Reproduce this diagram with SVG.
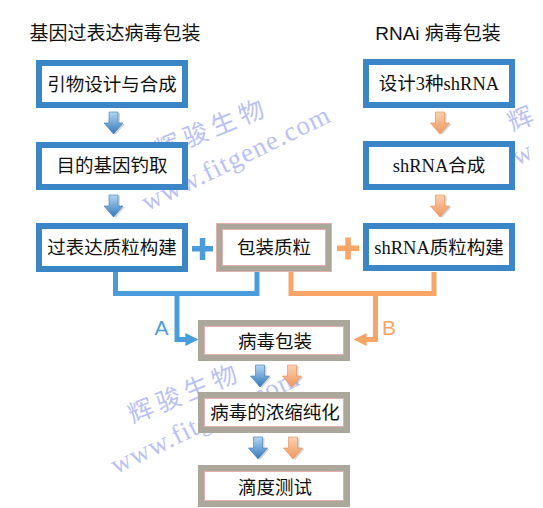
<svg xmlns="http://www.w3.org/2000/svg" width="543" height="508" viewBox="0 0 543 508">
<defs>
<style>
.bg{fill:#ffffff}
.title{font-family:"Liberation Sans","Noto Sans CJK SC",sans-serif;font-size:19px;fill:#111;text-anchor:middle;dominant-baseline:central}
.lbl{font-family:"Liberation Serif","Noto Sans CJK SC",serif;font-size:18.5px;fill:#111;text-anchor:middle;dominant-baseline:central}
.bbox{fill:#fff;stroke:#3A86C6;stroke-width:6}
.gbox{fill:#fff;stroke:#ABA79B;stroke-width:6}
.pink{fill:none;stroke:#E3AEAE;stroke-width:1}
.cb{fill:none;stroke:#4A9CDA;stroke-width:5;stroke-linejoin:miter}
.co{fill:none;stroke:#F9A567;stroke-width:5;stroke-linejoin:miter}
.ab{font-family:"Liberation Sans",sans-serif;font-size:21px;text-anchor:middle;dominant-baseline:central}
.wm{font-family:"Noto Sans CJK SC",sans-serif;font-size:25px;fill:#8E98F0;opacity:0.6;text-anchor:middle;dominant-baseline:central;letter-spacing:5px}
.wmu{font-family:"Liberation Serif",serif;font-size:27px;fill:#8E98F0;opacity:0.6;text-anchor:middle;dominant-baseline:central;letter-spacing:1px}
</style>
<linearGradient id="gb" x1="0" y1="0" x2="0" y2="1">
<stop offset="0" stop-color="#B4D6F2"/><stop offset="1" stop-color="#3478BA"/>
</linearGradient>
<linearGradient id="go" x1="0" y1="0" x2="0" y2="1">
<stop offset="0" stop-color="#FDD2B2"/><stop offset="1" stop-color="#F0955A"/>
</linearGradient>
<path id="da" d="M-4.5,0 H4.5 V11 H9.5 L0,22 L-9.5,11 H-4.5 Z"/>
<marker id="mb" viewBox="0 0 10 10" refX="2" refY="5" markerWidth="2.6" markerHeight="2.6" orient="auto" markerUnits="strokeWidth"><path d="M0,0 L10,5 L0,10 Z" fill="#4A9CDA"/></marker>
<marker id="mo" viewBox="0 0 10 10" refX="2" refY="5" markerWidth="2.6" markerHeight="2.6" orient="auto" markerUnits="strokeWidth"><path d="M0,0 L10,5 L0,10 Z" fill="#F9A567"/></marker>
</defs>
<rect class="bg" x="0" y="0" width="543" height="508"/>

<g id="watermarks">
<text class="wm" transform="translate(211,126) rotate(-22)">辉骏生物</text>
<text class="wmu" transform="translate(236,158) rotate(-26)">www.fitgene.com</text>
<text class="wm" transform="translate(184,391) rotate(-22)">辉骏生物</text>
<text class="wmu" transform="translate(205,421) rotate(-26)">www.fitgene.com</text>
<text class="wm" transform="translate(522,116) rotate(-22)">辉</text>
<text class="wmu" transform="translate(513,158) rotate(-26)">ww</text>
</g>

<g id="titles">
<text class="title" x="115" y="33">基因过表达病毒包装</text>
<text class="title" x="438" y="33">RNAi 病毒包装</text>
</g>

<g id="connectors">
<path class="cb" d="M115.5,272 V293.5 H257 V272"/>
<path class="cb" d="M177,293.5 V339.5 H188" marker-end="url(#mb)"/>
<path class="co" d="M291,272 V293.5 H434 V272"/>
<path class="co" d="M375.5,293.5 V339.5 H364" marker-end="url(#mo)"/>
<text class="ab" x="161.5" y="327" fill="#4A9CDA">A</text>
<text class="ab" x="389" y="327" fill="#F9A567">B</text>
<g id="plus-blue" fill="#4A9CDA"><rect x="192" y="246" width="21" height="5.5"/><rect x="199.8" y="238" width="5.5" height="22"/></g>
<g id="plus-orange" fill="#F9A567"><rect x="337" y="245.5" width="22" height="5.5"/><rect x="345.3" y="237.5" width="5.5" height="22"/></g>
<g id="block-arrows">
<use href="#da" transform="translate(115.5,113)" fill="#888" opacity="0.35"/>
<use href="#da" transform="translate(113.5,112)" fill="url(#gb)" stroke="#3A78B4" stroke-width="0.6"/>
<use href="#da" transform="translate(115.5,196)" fill="#888" opacity="0.35"/>
<use href="#da" transform="translate(113.5,195)" fill="url(#gb)" stroke="#3A78B4" stroke-width="0.6"/>
<use href="#da" transform="translate(442,113)" fill="#888" opacity="0.35"/>
<use href="#da" transform="translate(440,112)" fill="url(#go)" stroke="#E38A50" stroke-width="0.6"/>
<use href="#da" transform="translate(442,196)" fill="#888" opacity="0.35"/>
<use href="#da" transform="translate(440,195)" fill="url(#go)" stroke="#E38A50" stroke-width="0.6"/>
<use href="#da" transform="translate(262,366)" fill="#888" opacity="0.35"/>
<use href="#da" transform="translate(260,365)" fill="url(#gb)" stroke="#3A78B4" stroke-width="0.6"/>
<use href="#da" transform="translate(294,366)" fill="#888" opacity="0.35"/>
<use href="#da" transform="translate(292,365)" fill="url(#go)" stroke="#E38A50" stroke-width="0.6"/>
<use href="#da" transform="translate(260,438)" fill="#888" opacity="0.35"/>
<use href="#da" transform="translate(258,437)" fill="url(#gb)" stroke="#3A78B4" stroke-width="0.6"/>
<use href="#da" transform="translate(295,438)" fill="#888" opacity="0.35"/>
<use href="#da" transform="translate(293,437)" fill="url(#go)" stroke="#E38A50" stroke-width="0.6"/>
</g>
</g>

<g id="n-primer"><rect class="bbox" x="39" y="63" width="146" height="42"/><text class="lbl" x="112" y="85">引物设计与合成</text></g>
<g id="n-gene"><rect class="bbox" x="39" y="145" width="146" height="42"/><text class="lbl" x="112" y="166">目的基因钓取</text></g>
<g id="n-overexp"><rect class="bbox" x="39" y="226" width="146" height="43"/><text class="lbl" x="112" y="248">过表达质粒构建</text></g>
<g id="n-design"><rect class="bbox" x="366" y="62" width="146" height="43"/><text class="lbl" x="439" y="84">设计3种shRNA</text></g>
<g id="n-shsynth"><rect class="bbox" x="366" y="144" width="146" height="43"/><text class="lbl" x="439" y="166">shRNA合成</text></g>
<g id="n-shplasmid"><rect class="bbox" x="366" y="226" width="146" height="42"/><text class="lbl" x="439" y="248">shRNA质粒构建</text></g>
<g id="n-pack-plasmid"><rect class="gbox" x="219" y="226" width="110" height="43"/><rect class="pink" x="216.5" y="223.5" width="115" height="48"/><rect class="pink" x="222.5" y="229.5" width="103" height="36"/><text class="lbl" x="274" y="248">包装质粒</text></g>
<g id="n-packaging"><rect class="gbox" x="201" y="323" width="146" height="35"/><rect class="pink" x="204.5" y="326.5" width="139" height="28"/><text class="lbl" x="275" y="341.5">病毒包装</text></g>
<g id="n-purify"><rect class="gbox" x="201" y="395" width="146" height="35"/><rect class="pink" x="204.5" y="398.5" width="139" height="28"/><text class="lbl" x="275" y="413">病毒的浓缩纯化</text></g>
<g id="n-titer"><rect class="gbox" x="201" y="468" width="146" height="36"/><rect class="pink" x="204.5" y="471.5" width="139" height="29"/><text class="lbl" x="275" y="487.5">滴度测试</text></g>
</svg>
